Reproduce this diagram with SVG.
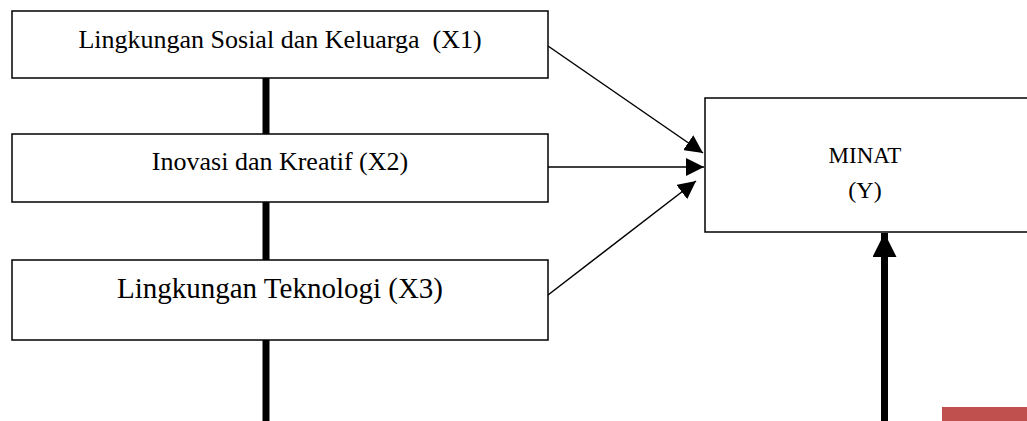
<svg xmlns="http://www.w3.org/2000/svg" width="1027" height="421" viewBox="0 0 1027 421">
  <style>
    .box { fill: #ffffff; stroke: #000000; stroke-width: 1.5; }
    .lbl { font-family: "Liberation Serif", "Times New Roman", serif; fill: #000000; text-anchor: middle; }
    .thin { stroke: #000000; stroke-width: 1.5; fill: none; }
    .thick { stroke: #000000; stroke-width: 7; fill: none; }
  </style>
  <defs>
    <marker id="ah" markerUnits="userSpaceOnUse" markerWidth="18" markerHeight="18" viewBox="0 0 16 16" refX="16" refY="8" orient="auto">
      <path d="M0,0 L16,8 L0,16 Z" fill="#000000"/>
    </marker>
    <marker id="ahBig" markerUnits="userSpaceOnUse" markerWidth="24" markerHeight="24" viewBox="0 0 23 23" refX="23" refY="11.5" orient="auto">
      <path d="M0,0 L23,11.5 L0,23 Z" fill="#000000"/>
    </marker>
  </defs>

  <g id="connectors">
    <line class="thick" x1="266" y1="78" x2="266" y2="134"/>
    <line class="thick" x1="266" y1="202" x2="266" y2="260"/>
    <line class="thick" x1="266" y1="340" x2="266" y2="421"/>
    <line class="thin" x1="548" y1="46" x2="703" y2="153" marker-end="url(#ah)"/>
    <line class="thin" x1="548" y1="167" x2="704" y2="167" marker-end="url(#ah)"/>
    <line class="thin" x1="548" y1="295" x2="696" y2="181" marker-end="url(#ah)"/>
    <line class="thick" x1="884.5" y1="421" x2="884.5" y2="233" marker-end="url(#ahBig)"/>
  </g>

  <g id="x1">
    <rect class="box" x="12" y="11" width="536" height="67"/>
    <text class="lbl" x="280" y="48" font-size="26" xml:space="preserve">Lingkungan Sosial dan Keluarga  (X1)</text>
  </g>

  <g id="x2">
    <rect class="box" x="12" y="134" width="536" height="68"/>
    <text class="lbl" x="280" y="170" font-size="26">Inovasi dan Kreatif (X2)</text>
  </g>

  <g id="x3">
    <rect class="box" x="12" y="260" width="536" height="80"/>
    <text class="lbl" x="280" y="298" font-size="29">Lingkungan Teknologi (X3)</text>
  </g>

  <g id="y">
    <rect class="box" x="705" y="98" width="340" height="134"/>
    <text class="lbl" x="865" y="163" font-size="23">MINAT</text>
    <text class="lbl" x="865" y="198" font-size="24">(Y)</text>
  </g>

  <rect x="942" y="407" width="85" height="14" fill="#C0504D"/>
</svg>
